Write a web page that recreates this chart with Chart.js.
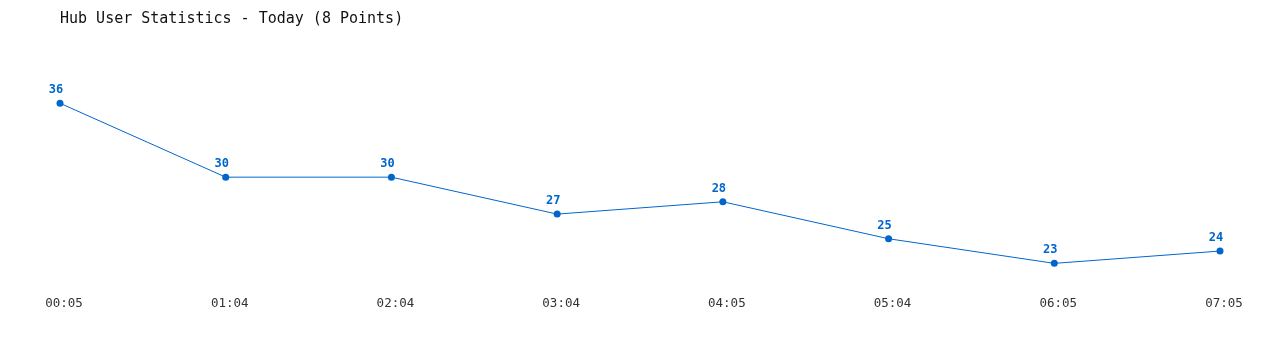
<!DOCTYPE html>
<html>
<head>
<meta charset="utf-8">
<script src="https://cdn.jsdelivr.net/npm/chart.js@4"></script>
<style>
  html, body { margin: 0; padding: 0; background: #fff; }
  #wrap { width: 1280px; height: 350px; }
</style>
</head>
<body>
<div id="wrap"><canvas id="graph" width="1280" height="350"></canvas></div>
<script>
// donnees
const heures = ["00:05", "01:04", "02:04", "03:04", "04:05", "05:04", "06:05", "07:05"];
const utilisateurs = [36, 30, 30, 27, 28, 25, 23, 24];
const titre = "Hub User Statistics - Today (8 Points)";

const bleu = "#0066cc";
const police = "'DejaVu Sans Mono', 'Liberation Mono', monospace";

// etiquettes au-dessus des points
const etiquettes = {
  id: "etiquettes",
  afterDatasetsDraw(chart) {
    const ctx = chart.ctx;
    const meta = chart.getDatasetMeta(0);
    ctx.save();
    ctx.font = "bold 12px " + police;
    ctx.fillStyle = bleu;
    ctx.textAlign = "center";
    ctx.textBaseline = "bottom";
    meta.data.forEach((pt, i) => {
      ctx.fillText(String(utilisateurs[i]), pt.x - 4, pt.y - 7);
    });
    ctx.restore();
  }
};

new Chart(document.getElementById("graph"), {
  type: "line",
  data: {
    labels: heures,
    datasets: [{
      label: "Users",
      data: utilisateurs,
      borderColor: bleu,
      backgroundColor: bleu,
      borderWidth: 1,
      pointRadius: 3.5,
      pointBackgroundColor: bleu,
      pointBorderWidth: 0,
      tension: 0,
      fill: false
    }]
  },
  options: {
    responsive: false,
    animation: false,
    layout: { padding: { left: 60, right: 60, top: 0, bottom: 30 } },
    plugins: {
      legend: { display: false },
      tooltip: { enabled: false },
      title: {
        display: true,
        text: titre,
        align: "start",
        color: "#111",
        font: { family: police, size: 15, weight: "normal", lineHeight: 1.2 },
        padding: { top: 10, bottom: 26 }
      }
    },
    scales: {
      x: {
        offset: false,
        grid: { display: false, drawTicks: false },
        border: { display: false },
        ticks: {
          color: "#333",
          font: { family: police, size: 12.5 },
          padding: 8.5,
          labelOffset: 4,
          maxRotation: 0,
          autoSkip: false
        }
      },
      y: {
        display: false,
        min: 21,
        max: 40
      }
    }
  },
  plugins: [etiquettes]
});
</script>
</body>
</html>
